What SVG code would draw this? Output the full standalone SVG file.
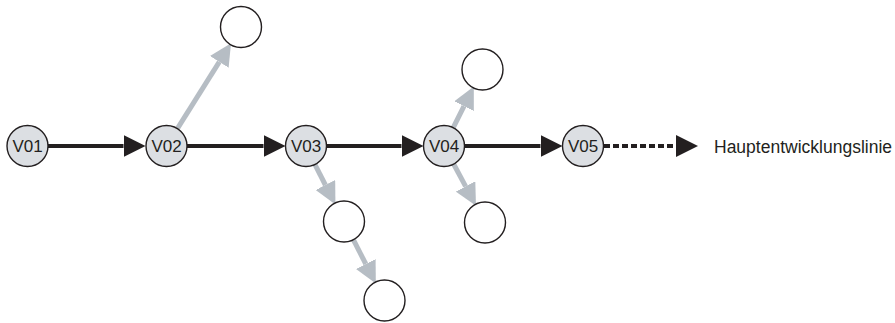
<svg xmlns="http://www.w3.org/2000/svg" width="895" height="323" viewBox="0 0 895 323">
<style>
.main{fill:#dcdfe3;stroke:#231f20;stroke-width:1.4}
.side{fill:#ffffff;stroke:#231f20;stroke-width:1.4}
.lbl{font-family:"Liberation Sans",Arial,sans-serif;font-size:17px;fill:#231f20;text-anchor:middle}
.blk{stroke:#231f20;stroke-width:4;fill:none;marker-end:url(#ab)}
.dash{stroke:#231f20;stroke-width:4;fill:none;stroke-dasharray:6 3;marker-end:url(#ab)}
.gry{stroke:#b6bdc4;stroke-width:5;fill:none;marker-end:url(#ag)}
</style>
<defs>
<marker id="ab" markerUnits="userSpaceOnUse" markerWidth="22" markerHeight="22" refX="0" refY="11" orient="auto" viewBox="0 0 22 22"><path d="M0,0 L22,11 L0,22 z" fill="#231f20"/></marker>
<marker id="ag" markerUnits="userSpaceOnUse" markerWidth="22" markerHeight="22" refX="0" refY="11" orient="auto" viewBox="0 0 22 22"><path d="M0,0 L22,11 L0,22 z" fill="#b6bdc4"/></marker>
</defs>
<g id="connectors">
<line class="blk" x1="48" y1="146" x2="123.5" y2="146"/>
<line class="blk" x1="187" y1="146" x2="263.5" y2="146"/>
<line class="blk" x1="326.5" y1="146" x2="401.5" y2="146"/>
<line class="blk" x1="464.5" y1="146" x2="540.5" y2="146"/>
<line class="dash" x1="604" y1="146" x2="676" y2="146"/>
<line class="gry" x1="177.7" y1="128.1" x2="219.3" y2="61.9"/>
<line class="gry" x1="315" y1="164.7" x2="325.4" y2="185"/>
<line class="gry" x1="353.6" y1="240.2" x2="365.8" y2="264"/>
<line class="gry" x1="453.5" y1="127.2" x2="464" y2="106.2"/>
<line class="gry" x1="453.9" y1="164.5" x2="465.6" y2="186.4"/>
</g>
<g id="V01"><circle class="main" cx="27.5" cy="146" r="20.5"/><text class="lbl" x="27.5" y="152">V01</text></g>
<g id="V02"><circle class="main" cx="166.5" cy="146" r="20.5"/><text class="lbl" x="166.5" y="152">V02</text></g>
<g id="V03"><circle class="main" cx="306" cy="146" r="20.5"/><text class="lbl" x="306" y="152">V03</text></g>
<g id="V04"><circle class="main" cx="444" cy="146" r="20.5"/><text class="lbl" x="444" y="152">V04</text></g>
<g id="V05"><circle class="main" cx="583" cy="146" r="20.5"/><text class="lbl" x="583" y="152">V05</text></g>
<g id="b2"><circle class="side" cx="241" cy="27" r="20.5"/></g>
<g id="b3a"><circle class="side" cx="344" cy="221.5" r="20.5"/></g>
<g id="b3b"><circle class="side" cx="384.5" cy="300.5" r="20.5"/></g>
<g id="b4a"><circle class="side" cx="482.5" cy="69.5" r="20.5"/></g>
<g id="b4b"><circle class="side" cx="485" cy="222.5" r="20.5"/></g>
<g id="legend"><text x="714" y="153" font-family="Liberation Sans, Arial, sans-serif" font-size="17.5" fill="#231f20">Hauptentwicklungslinie</text></g>
</svg>
